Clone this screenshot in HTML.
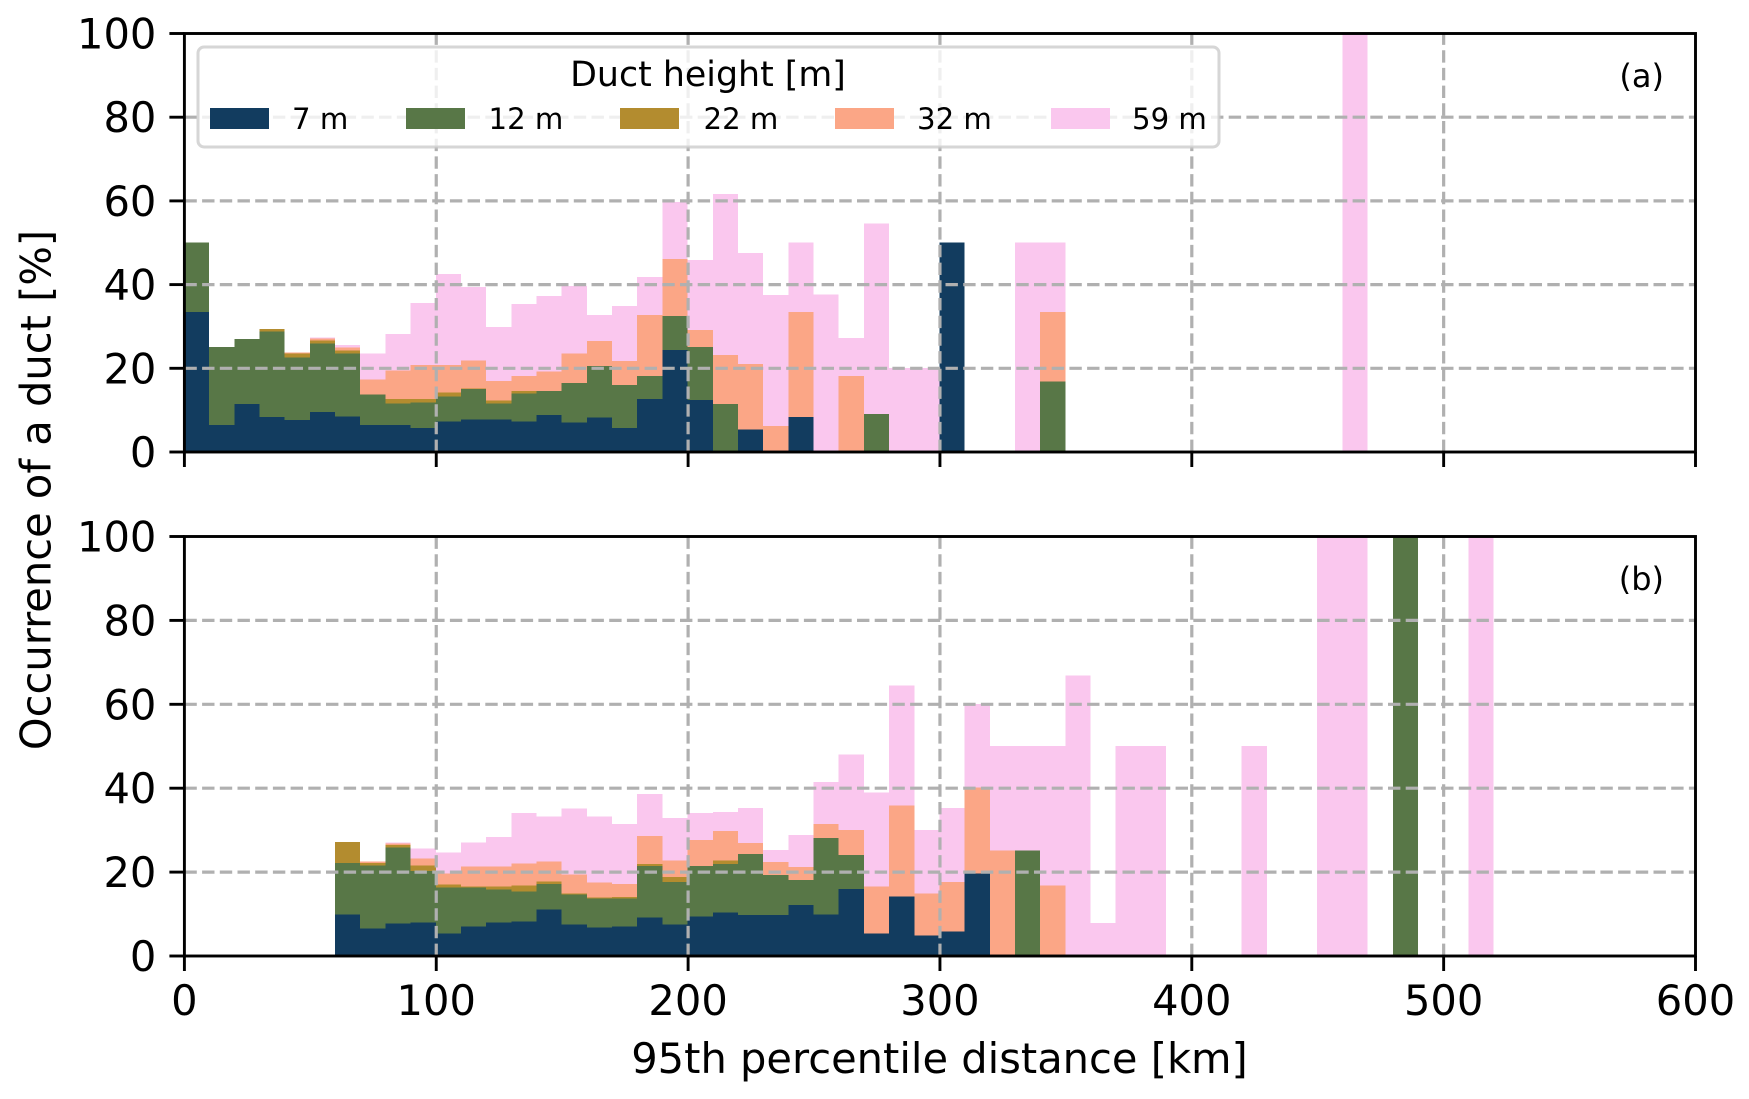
<!DOCTYPE html>
<html lang="en">
<head>
<meta charset="utf-8">
<title>Occurrence of a duct by 95th percentile distance</title>
<style>
html,body{margin:0;padding:0;background:#fff;}
svg{display:block;font-family:"DejaVu Sans","Liberation Sans",sans-serif;}
</style>
</head>
<body>
<svg id="chart" xmlns="http://www.w3.org/2000/svg" width="1749" height="1099" viewBox="0 0 1749 1099">
  <rect x="0" y="0" width="1749" height="1099" fill="#ffffff"/>
  <g id="panel-a"></g>
  <g id="panel-b"></g>
  <text transform="translate(36,490) rotate(-90)" text-anchor="middle" dominant-baseline="central" font-size="41.6" fill="#000">Occurrence of a duct [%]</text>
  <text x="939.5" y="1073" text-anchor="middle" font-size="41.6" fill="#000">95th percentile distance [km]</text>
  <text x="1664" y="87" text-anchor="end" font-size="32" fill="#000">(a)</text>
  <text x="1664" y="590" text-anchor="end" font-size="32" fill="#000">(b)</text>
  <g>
    <rect x="198" y="47" width="1021" height="100" rx="6" ry="6" fill="#ffffff" fill-opacity="0.8" stroke="#cccccc" stroke-opacity="0.8" stroke-width="3"/>
    <text x="708" y="86" text-anchor="middle" font-size="34.8" fill="#000">Duct height [m]</text>
    <rect x="210" y="108" width="59" height="21" fill="#123c5f"/>
    <text x="292" y="129" font-size="29.2" fill="#000">7 m</text>
    <rect x="406" y="108" width="59" height="21" fill="#587747"/>
    <text x="488.5" y="129" font-size="29.2" fill="#000">12 m</text>
    <rect x="620" y="108" width="59" height="21" fill="#b38c2f"/>
    <text x="703.5" y="129" font-size="29.2" fill="#000">22 m</text>
    <rect x="835" y="108" width="59" height="21" fill="#fba686"/>
    <text x="917" y="129" font-size="29.2" fill="#000">32 m</text>
    <rect x="1051" y="108" width="59" height="21" fill="#fac7ee"/>
    <text x="1132" y="129" font-size="29.2" fill="#000">59 m</text>
  </g>
</svg>
<script>
// Tick labels
const xTicks = [0, 100, 200, 300, 400, 500, 600];
const yTicks = [0, 20, 40, 60, 80, 100];
const binWidthKm = 10;

// Panel (a): occurrence per 10 km bin [%], one array per duct height
const a7m  = [33.3,6.3,11.4,8.2,7.5,9.4,8.4,6.3,6.3,5.6,7.2,7.7,7.7,7.2,8.7,6.9,8.1,5.6,12.6,24.3,12.3,0,5.2,0,8.3,0,0,0,0,0,50];
const a12m = [16.7,18.7,15.5,20.5,15,16.4,15,7.3,5.2,6.1,6,7.2,3.8,6.7,5.8,9.5,12.3,10.3,5.5,8.1,12.7,11.4,0,0,0,0,0,9,0,0,0,0,0,0,16.7];
const a22m = [0,0,0,0.6,0.9,0.7,0.7,0,1,0.8,0.9,0.1,0.7,0.6];
const a32m = [0,0,0,0,0.2,0.5,0.7,3.6,6.8,8.2,6.6,6.7,4.7,3.6,4.6,7,6,5.7,14.5,13.6,4,11.7,15.7,6.1,25,0,18.1,0,0,0,0,0,0,0,16.6];
const a59m = [0,0,0,0,0,0.2,0.7,6.2,8.8,14.8,21.7,17.6,12.9,17.2,18.1,16.2,6.2,13.2,9.1,13.6,16.7,38.4,26.5,31.3,16.7,37.5,9,45.5,20,20,0,0,0,50,16.7,0,0,0,0,0,0,0,0,0,0,0,100];

// Panel (b): occurrence per 10 km bin [%], one array per duct height
const b7m  = [0,0,0,0,0,0,9.8,6.4,7.6,7.9,5.2,6.9,7.9,8.1,11,7.4,6.7,6.9,9.1,7.4,9.3,10.3,9.6,9.6,12,9.8,15.8,5.3,14.1,4.8,5.7,19.6];
const b12m = [0,0,0,0,0,0,12.3,15,18.1,12.3,11,9.3,7.8,7.1,6.1,7.1,6.9,6.7,12.2,10.1,12,11.5,14.6,9.6,6,18.2,8.1,0,0,0,0,0,0,25,0,0,0,0,0,0,0,0,0,0,0,0,0,0,100];
const b22m = [0,0,0,0,0,0,5,0.7,0.7,1.2,0.7,0.2,0.7,1.5,0.5,0.3,0.2,0.4,0.5,1.2,0,0.9];
const b32m = [0,0,0,0,0,0,0,0.3,0.3,1.7,2.6,4.8,4.8,5.2,4.8,4.5,3.6,3.1,6.7,4,6.2,7,2.6,3.1,3.1,3.4,6,11.2,21.6,10,11.8,20.4,25,0,16.7];
const b59m = [0,0,0,0,0,0,0,0,0.2,2.4,5,5.7,7.1,12.1,10.7,15.7,15.7,14.3,10,10.1,6.5,4.5,8.4,2.8,7.6,10,18,22.3,28.7,15.1,17.7,20,25,25,33.3,66.7,7.7,50,50,0,0,0,50,0,0,100,100,0,0,0,0,100];

const NS = 'http://www.w3.org/2000/svg';
const GRID = '#b0b0b0';
const plotLeft = 184.4, plotRight = 1695.5;
const xMaxKm = 600, yMaxPct = 100;
const seriesFills = ['#123c5f', '#587747', '#b38c2f', '#fba686', '#fac7ee'];
const seriesNames = ['7m', '12m', '22m', '32m', '59m'];

function xScale(km) { return plotLeft + (km / xMaxKm) * (plotRight - plotLeft); }

function make(tag, parent, attrs) {
  const el = document.createElementNS(NS, tag);
  Object.keys(attrs).forEach(function (k) { el.setAttribute(k, attrs[k]); });
  parent.appendChild(el);
  return el;
}

function drawPanel(id, top, bottom, series, showXLabels) {
  const g = document.getElementById(id);
  const yScale = function (pct) { return bottom - (pct / yMaxPct) * (bottom - top); };

  // stacked bars
  const bins = Math.max.apply(null, series.map(function (s) { return s.length; }));
  for (let i = 0; i < bins; i++) {
    let base = 0;
    series.forEach(function (s, si) {
      const v = s[i] || 0;
      if (v > 0) {
        const r = make('rect', g, {
          x: xScale(i * binWidthKm) - 0.5,
          y: yScale(base + v) - 0.5,
          width: xScale((i + 1) * binWidthKm) - xScale(i * binWidthKm),
          height: yScale(base) - yScale(base + v),
          fill: seriesFills[si],
          'shape-rendering': 'crispEdges'
        });
        
        
      }
      base += v;
    });
  }

  // grid above bars
  xTicks.forEach(function (t) {
    if (t === 0 || t === xMaxKm) return;
    const l = make('line', g, {
      x1: xScale(t), x2: xScale(t), y1: bottom, y2: top,
      stroke: GRID, 'stroke-width': 3.2, 'stroke-dasharray': '12.4 5.3'
    });
    
    
  });
  yTicks.forEach(function (t) {
    if (t === 0 || t === yMaxPct) return;
    const l = make('line', g, {
      x1: plotLeft, x2: plotRight, y1: yScale(t), y2: yScale(t),
      stroke: GRID, 'stroke-width': 3.2, 'stroke-dasharray': '12.4 5.3'
    });
    
    
  });

  // spines
  const frame = make('rect', g, {
    x: plotLeft, y: top, width: plotRight - plotLeft, height: bottom - top,
    fill: 'none', stroke: '#000', 'stroke-width': 2.9
  });
  
  

  // y ticks
  yTicks.forEach(function (t) {
    const l = make('line', g, {
      x1: plotLeft - 15, x2: plotLeft, y1: yScale(t), y2: yScale(t),
      stroke: '#000', 'stroke-width': 2.9
    });
    
    
    const txt = make('text', g, {
      x: plotLeft - 28, y: yScale(t) + 15, 'text-anchor': 'end', 'font-size': 41.6, fill: '#000'
    });
    
    
    txt.textContent = String(t);
  });

  // x ticks
  xTicks.forEach(function (t) {
    const l = make('line', g, {
      x1: xScale(t), x2: xScale(t), y1: bottom, y2: bottom + 15,
      stroke: '#000', 'stroke-width': 2.9
    });
    
    
    if (showXLabels) {
      const txt = make('text', g, {
        x: xScale(t), y: bottom + 59, 'text-anchor': 'middle', 'font-size': 41.6, fill: '#000'
      });
      
      
      txt.textContent = String(t);
    }
  });
}

drawPanel('panel-a', 33.5, 452, [a7m, a12m, a22m, a32m, a59m], false);
drawPanel('panel-b', 536.5, 956, [b7m, b12m, b22m, b32m, b59m], true);
</script>
</body>
</html>
